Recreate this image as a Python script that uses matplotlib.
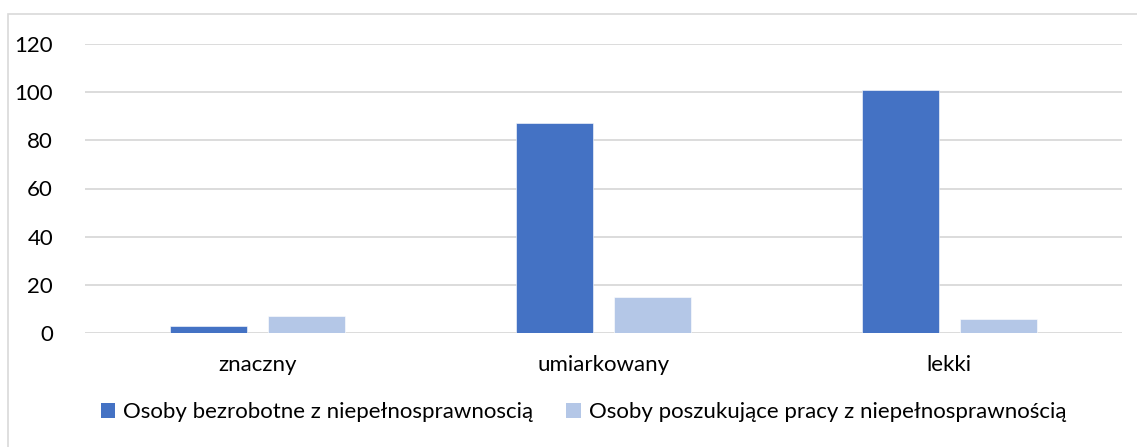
import matplotlib
matplotlib.use("Agg")
import matplotlib.pyplot as plt
from matplotlib.patches import Rectangle, Patch
import numpy as np

categories = ["znaczny", "umiarkowany", "lekki"]
series_names = ["Osoby bezrobotne z niepełnosprawnoscią",
                "Osoby poszukujące pracy z niepełnosprawnością"]
bezrobotne = [3, 87, 101]
poszukujace = [7, 15, 6]
yticks = [0, 20, 40, 60, 80, 100, 120]

colors = ["#4472C4", "#B4C7E7"]
plt.rcParams['font.family'] = ['Lato', 'DejaVu Sans']
FS = 16

W, H = 1137, 447
fig = plt.figure(figsize=(W / 100, H / 100), dpi=100)
fig.patches.append(Rectangle((8 / W, -0.05), 1.2, 1 - 14 / H + 0.05,
                             transform=fig.transFigure, fill=False,
                             edgecolor="#D9D9D9", linewidth=1.2))

ax = fig.add_axes([85 / W, 1 - 333 / H, (1122 - 85) / W, (333 - 44) / H])
x = np.arange(len(categories))
bw = 0.223
gap = 0.06
off = (bw + gap) / 2
ax.bar(x - off, bezrobotne, bw, color=colors[0], edgecolor="white", linewidth=0.4, zorder=3)
ax.bar(x + off, poszukujace, bw, color=colors[1], edgecolor="white", linewidth=0.4, zorder=3)

ax.set_xlim(-0.5, len(categories) - 0.5)
ax.set_ylim(0, 120)
ax.set_yticks(yticks)
ax.set_yticklabels([str(v) for v in yticks], fontsize=FS, color="#000000")
ax.set_xticks(x)
ax.set_xticklabels(categories, fontsize=FS, color="#000000")
ax.tick_params(axis="y", length=0, pad=23)
ax.tick_params(axis="x", length=0, pad=16)
ax.grid(axis="y", color="#D9D9D9", linewidth=1.3, zorder=0)
for s in ax.spines.values():
    s.set_visible(False)

handles = [Patch(facecolor=colors[0]), Patch(facecolor=colors[1])]
fig.legend(handles, series_names, loc="center", bbox_to_anchor=(583.5 / W, 1 - 412 / H),
           ncol=2, frameon=False, fontsize=FS, handlelength=0.65, handleheight=0.65,
           handletextpad=0.35, columnspacing=1.5)

fig.savefig("out.png", dpi=100, facecolor="white")
